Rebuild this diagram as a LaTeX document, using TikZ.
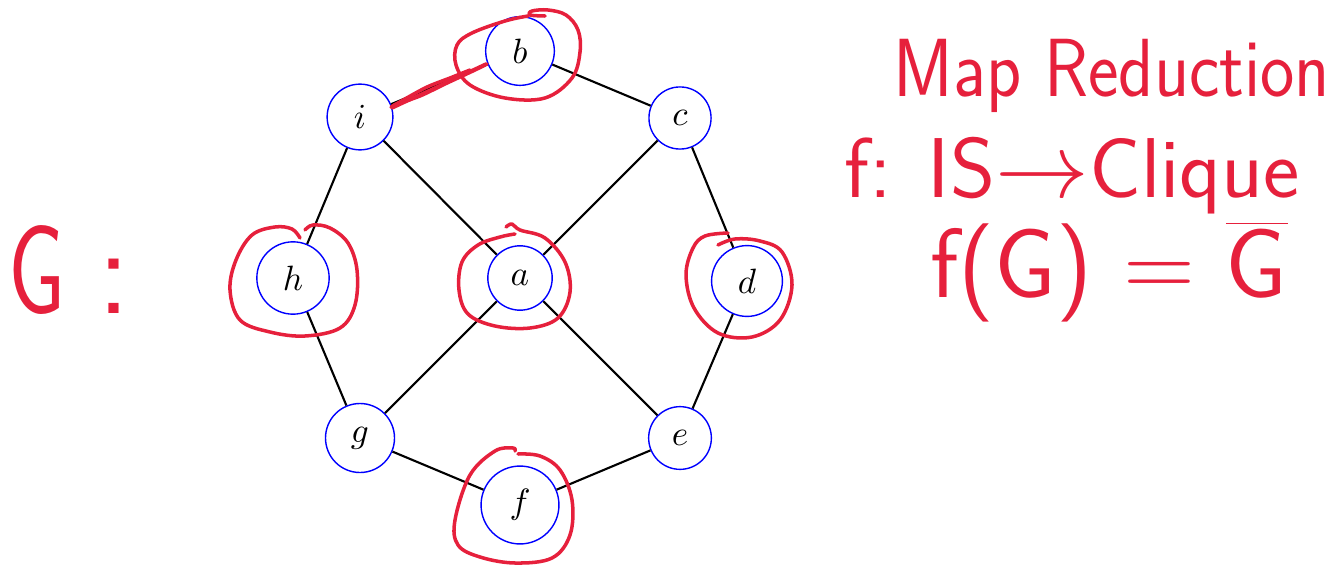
\documentclass[tikz,border=0pt]{standalone}
\definecolor{inkred}{RGB}{230,32,60}
\begin{document}
\begin{tikzpicture}[x=0.01cm,y=-0.01cm,
  vert/.style={circle,draw=blue,line width=0.4pt,inner sep=4.08pt},
  edge/.style={line width=0.6pt},
  ink/.style={draw=inkred,line width=1pt,line cap=round,line join=round},
  hand/.style={text=inkred,anchor=base,inner sep=0pt,font=\sffamily\fontsize{23}{27}\selectfont}]
\useasboundingbox (0,0) rectangle (1334,567);
% vertices
\node[vert] (b) at (520,51) {$b$};
\node[vert] (i) at (360,117) {$i$};
\node[vert] (c) at (680,118) {$c$};
\node[vert] (h) at (293,278) {$h$};
\node[vert] (a) at (520,278) {$a$};
\node[vert] (d) at (747,281) {$d$};
\node[vert] (g) at (360,438) {$g$};
\node[vert] (e) at (680,438) {$e$};
\node[vert] (f) at (520,505) {$f$};
% edges
\draw[edge] (i) -- (b);
\draw[edge] (b) -- (c);
\draw[edge] (i) -- (h);
\draw[edge] (i) -- (a);
\draw[edge] (c) -- (a);
\draw[edge] (c) -- (d);
\draw[edge] (h) -- (g);
\draw[edge] (a) -- (g);
\draw[edge] (a) -- (e);
\draw[edge] (d) -- (e);
\draw[edge] (g) -- (f);
\draw[edge] (f) -- (e);
% red annotations around vertices
\draw[ink] plot[smooth,tension=0.6] coordinates {(545,16) (530,15) (532,11) (548,10) (566,15) (578,30) (580,52) (572,78) (545,98) (505,98) (470,85) (456,65) (457,45) (472,33) (505,21) (528,16)};
\draw[ink] (392,108) -- (486,64);
\draw[ink] plot[smooth,tension=0.5] coordinates {(394,105) (420,96) (445,84) (475,70) (487,64)};
\draw[ink] plot[smooth,tension=0.5] coordinates {(391,107) (425,88) (450,78) (470,70)};
\draw[ink] plot[smooth,tension=0.6] coordinates {(300,238) (292,229) (275,227) (252,235) (236,260) (230,290) (240,320) (270,332) (305,336) (340,328) (355,305) (357,270) (348,243) (330,228) (313,225) (305,230)};
\draw[ink] plot[smooth,tension=0.6] coordinates {(506,227) (512,224) (520,230) (545,238) (565,262) (570,292) (558,318) (530,328) (495,326) (468,314) (459,290) (462,262) (478,245) (500,237) (515,234)};
\draw[ink] plot[smooth,tension=0.6] coordinates {(718,245) (735,239) (760,241) (782,252) (792,285) (780,320) (752,337) (718,333) (694,308) (686,275) (693,248) (705,236) (728,233)};
\draw[ink] plot[smooth,tension=0.6] coordinates {(515,451) (513,448) (495,451) (470,475) (455,520) (458,545) (480,557) (515,563) (552,558) (570,535) (572,500) (560,470) (540,456) (518,454)};
% handwritten text
\node[hand,anchor=base west,font=\sffamily\fontsize{36}{40}\selectfont] (Glabel) at (8,313) {\scalebox{0.72}[1]{G}\hspace{9pt}:};
\node[hand] (title) at (1112,97) {\scalebox{0.9}[1.02]{Map Reduction}};
\node[hand] (map) at (1072,198) {\scalebox{1.07}[1.05]{f: IS$\rightarrow$Clique}};
\node[hand,font=\sffamily\fontsize{28}{32}\selectfont] (fg) at (1109,297) {f(G) = $\overline{\mbox{G}}$};
\end{tikzpicture}
\end{document}
